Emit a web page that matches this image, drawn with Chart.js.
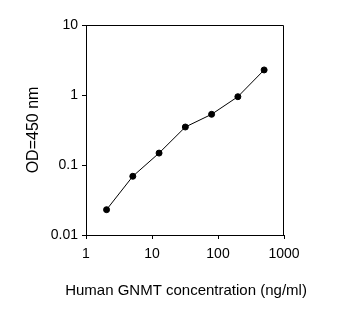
<!DOCTYPE html>
<html>
<head>
<meta charset="utf-8">
<script src="https://cdn.jsdelivr.net/npm/chart.js@4"></script>
<style>
  body { margin: 0; background: #fff; }
  canvas { display: block; }
</style>
</head>
<body>
<canvas id="curve" width="353" height="322"></canvas>
<script>
"use strict";
// standard curve values
const concentrations = [2.048, 5.12, 12.8, 32, 80, 200, 500];
const odValues = [0.023, 0.069, 0.148, 0.349, 0.53, 0.946, 2.28];
const xTicks = [1, 10, 100, 1000];
const yTicks = [0.01, 0.1, 1, 10];
const xTitle = 'Human GNMT concentration (ng/ml)';
const yTitle = 'OD=450 nm';

const fontFamily = '"Liberation Sans", Arial, sans-serif';
Chart.defaults.font.family = fontFamily;
Chart.defaults.color = '#000';

const points = concentrations.map((c, i) => ({ x: c, y: odValues[i] }));

// top and right sides of the frame, plus the x title
// (the built-in scale title gets squeezed to the axis width)
const frameBox = {
    id: 'frameBox',
    afterDraw(chart) {
        const a = chart.chartArea;
        const ctx = chart.ctx;
        ctx.save();
        ctx.strokeStyle = '#000';
        ctx.lineWidth = 1;
        ctx.beginPath();
        ctx.moveTo(a.left, a.top + 0.5);
        ctx.lineTo(a.right - 0.5, a.top + 0.5);
        ctx.lineTo(a.right - 0.5, a.bottom);
        ctx.stroke();
        ctx.fillStyle = '#000';
        ctx.font = '15px ' + fontFamily;
        ctx.textAlign = 'center';
        ctx.textBaseline = 'middle';
        ctx.fillText(xTitle, (a.left + a.right) / 2 + 1, a.bottom + 56);
        ctx.restore();
    }
};

new Chart(document.getElementById('curve'), {
    type: 'scatter',
    data: {
        datasets: [{
            data: points,
            showLine: true,
            borderColor: '#000',
            borderWidth: 1,
            backgroundColor: '#000',
            pointRadius: 3,
            pointHoverRadius: 3
        }]
    },
    options: {
        responsive: false,
        animation: false,
        events: [],
        layout: { padding: { left: 0, right: 69, top: 25, bottom: 0 } },
        plugins: { legend: { display: false }, tooltip: { enabled: false } },
        scales: {
            x: {
                type: 'logarithmic',
                min: 1,
                max: 1000,
                afterBuildTicks: scale => { scale.ticks = xTicks.map(v => ({ value: v })); },
                afterFit: scale => { scale.height = 87; },
                ticks: {
                    font: { size: 14 },
                    padding: 7,
                    maxRotation: 0,
                    callback: v => String(v)
                },
                grid: { drawOnChartArea: false, tickLength: 4, color: '#000' },
                border: { color: '#000', width: 1 },
                title: { display: false }
            },
            y: {
                type: 'logarithmic',
                min: 0.01,
                max: 10,
                afterBuildTicks: scale => { scale.ticks = yTicks.map(v => ({ value: v })); },
                afterFit: scale => { scale.width = 86; },
                ticks: {
                    font: { size: 14 },
                    padding: 4,
                    callback: v => String(v)
                },
                grid: { drawOnChartArea: false, tickLength: 4, color: '#000' },
                border: { color: '#000', width: 1 },
                title: { display: true, text: yTitle, font: { size: 16 }, padding: { top: 24, bottom: 0 } }
            }
        }
    },
    plugins: [frameBox]
});
</script>
</body>
</html>
